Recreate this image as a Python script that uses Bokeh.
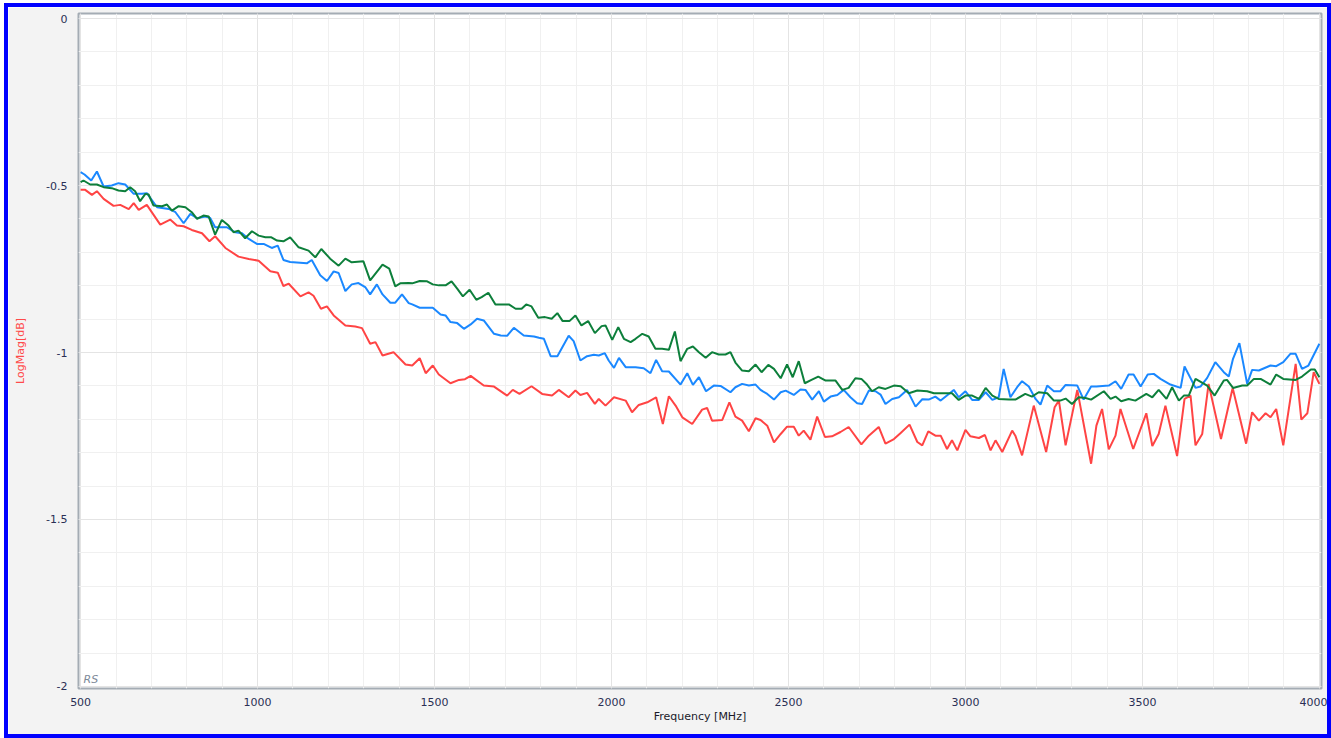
from bokeh.plotting import figure
from bokeh.models import Range1d, FixedTicker, NumeralTickFormatter, Label
from bokeh.embed import file_html
from bokeh.resources import INLINE

# ---- data ----
red_freq = [500, 513, 532, 546, 565, 593, 612, 636, 650, 664, 687, 725, 753, 772, 791, 814, 843, 864, 880, 909,
            946, 975, 1003, 1036, 1057, 1073, 1088, 1121, 1144, 1158, 1179, 1196, 1215, 1248, 1276, 1295, 1318, 1333,
            1353, 1384, 1418, 1437, 1458, 1475, 1495, 1512, 1545, 1569, 1586, 1602, 1639, 1668, 1705, 1721, 1740,
            1774, 1804, 1832, 1851, 1879, 1898, 1912, 1931, 1953, 1964, 1983, 2007, 2040, 2058, 2077, 2101, 2126,
            2145, 2162, 2181, 2200, 2228, 2256, 2270, 2284, 2313, 2333, 2350, 2369, 2388, 2407, 2421, 2440, 2459,
            2478, 2496, 2515, 2529, 2543, 2562, 2581, 2603, 2623, 2647, 2670, 2706, 2727, 2755, 2774, 2798, 2817,
            2842, 2864, 2878, 2895, 2915, 2930, 2948, 2962, 2977, 3000, 3014, 3038, 3055, 3071, 3085, 3104, 3132,
            3141, 3160, 3193, 3228, 3252, 3264, 3283, 3316, 3355, 3370, 3386, 3405, 3424, 3438, 3474, 3511, 3528,
            3546, 3565, 3598, 3619, 3636, 3650, 3669, 3687, 3722, 3755, 3793, 3810, 3829, 3848, 3862, 3878, 3898,
            3933, 3949, 3966, 3984, 4000]
red_val = [-0.513, -0.513, -0.528, -0.517, -0.540, -0.561, -0.558, -0.571, -0.553, -0.573, -0.558, -0.617, -0.602,
           -0.620, -0.622, -0.633, -0.643, -0.667, -0.652, -0.687, -0.713, -0.720, -0.725, -0.757, -0.761, -0.801,
           -0.794, -0.832, -0.820, -0.830, -0.869, -0.862, -0.889, -0.919, -0.922, -0.927, -0.974, -0.969, -1.009,
           -0.999, -1.036, -1.039, -1.017, -1.062, -1.039, -1.066, -1.092, -1.082, -1.080, -1.070, -1.099, -1.102,
           -1.129, -1.112, -1.124, -1.101, -1.124, -1.129, -1.112, -1.134, -1.114, -1.127, -1.121, -1.154, -1.139,
           -1.159, -1.134, -1.144, -1.179, -1.157, -1.149, -1.134, -1.214, -1.131, -1.159, -1.194, -1.214, -1.171,
           -1.166, -1.204, -1.202, -1.149, -1.192, -1.204, -1.236, -1.197, -1.202, -1.219, -1.269, -1.244, -1.222,
           -1.222, -1.249, -1.234, -1.261, -1.192, -1.253, -1.251, -1.238, -1.223, -1.275, -1.249, -1.223, -1.273,
           -1.259, -1.241, -1.216, -1.268, -1.278, -1.236, -1.249, -1.249, -1.289, -1.263, -1.293, -1.232, -1.251,
           -1.256, -1.247, -1.293, -1.263, -1.298, -1.234, -1.249, -1.308, -1.159, -1.298, -1.164, -1.144, -1.278,
           -1.112, -1.333, -1.219, -1.169, -1.290, -1.249, -1.169, -1.289, -1.182, -1.280, -1.244, -1.159, -1.310,
           -1.139, -1.129, -1.278, -1.244, -1.094, -1.259, -1.106, -1.273, -1.179, -1.204, -1.182, -1.194, -1.169,
           -1.278, -1.034, -1.201, -1.182, -1.059, -1.094]

blue_freq = [500, 511, 530, 546, 565, 588, 607, 626, 650, 673, 687, 716, 749, 768, 791, 810, 829, 852, 866, 880,
             913, 937, 956, 975, 998, 1017, 1040, 1057, 1073, 1092, 1139, 1153, 1177, 1196, 1215, 1229, 1248, 1266,
             1285, 1304, 1318, 1337, 1353, 1375, 1389, 1408, 1427, 1437, 1458, 1495, 1517, 1531, 1545, 1564, 1583,
             1602, 1620, 1639, 1668, 1687, 1705, 1724, 1752, 1781, 1795, 1809, 1828, 1847, 1879, 1893, 1912, 1931,
             1950, 1964, 1981, 1992, 2007, 2021, 2040, 2068, 2091, 2110, 2126, 2143, 2162, 2195, 2214, 2230, 2247,
             2267, 2289, 2308, 2336, 2350, 2369, 2388, 2407, 2421, 2440, 2459, 2478, 2492, 2515, 2534, 2548, 2567,
             2586, 2600, 2619, 2638, 2656, 2675, 2694, 2708, 2727, 2746, 2760, 2774, 2793, 2812, 2835, 2859, 2878,
             2896, 2915, 2930, 2953, 2967, 2981, 3000, 3019, 3038, 3057, 3076, 3094, 3108, 3127, 3146, 3160, 3179,
             3198, 3212, 3231, 3250, 3268, 3283, 3316, 3334, 3355, 3370, 3405, 3424, 3440, 3461, 3475, 3495, 3515,
             3532, 3551, 3579, 3608, 3619, 3650, 3664, 3683, 3706, 3730, 3744, 3756, 3774, 3796, 3810, 3829, 3862,
             3878, 3898, 3918, 3933, 3951, 3969, 4000]
blue_val = [-0.460, -0.467, -0.485, -0.458, -0.503, -0.500, -0.493, -0.497, -0.525, -0.525, -0.523, -0.565, -0.570,
            -0.580, -0.613, -0.585, -0.598, -0.593, -0.597, -0.625, -0.625, -0.640, -0.643, -0.660, -0.675, -0.675,
            -0.687, -0.680, -0.723, -0.729, -0.733, -0.723, -0.769, -0.786, -0.757, -0.762, -0.816, -0.796, -0.792,
            -0.804, -0.826, -0.796, -0.826, -0.851, -0.851, -0.826, -0.852, -0.856, -0.866, -0.866, -0.886, -0.889,
            -0.909, -0.912, -0.929, -0.916, -0.899, -0.904, -0.944, -0.949, -0.950, -0.926, -0.949, -0.952, -0.956,
            -0.959, -1.011, -1.011, -0.950, -0.966, -1.024, -1.011, -1.007, -1.009, -1.002, -1.024, -1.046, -1.016,
            -1.044, -1.044, -1.047, -1.062, -1.022, -1.056, -1.057, -1.096, -1.062, -1.097, -1.074, -1.116, -1.099,
            -1.100, -1.119, -1.104, -1.094, -1.099, -1.096, -1.112, -1.124, -1.141, -1.119, -1.114, -1.127, -1.111,
            -1.112, -1.141, -1.116, -1.147, -1.132, -1.127, -1.112, -1.134, -1.152, -1.154, -1.114, -1.116, -1.126,
            -1.154, -1.139, -1.134, -1.112, -1.162, -1.140, -1.141, -1.132, -1.144, -1.124, -1.112, -1.134, -1.116,
            -1.142, -1.142, -1.119, -1.142, -1.134, -1.049, -1.134, -1.104, -1.086, -1.102, -1.139, -1.156, -1.099,
            -1.116, -1.116, -1.097, -1.099, -1.141, -1.102, -1.102, -1.099, -1.086, -1.109, -1.066, -1.066, -1.102,
            -1.066, -1.064, -1.079, -1.096, -1.106, -1.042, -1.106, -1.102, -1.076, -1.029, -1.059, -1.072, -1.019,
            -0.972, -1.094, -1.052, -1.054, -1.039, -1.041, -1.029, -1.004, -1.004, -1.049, -1.039, -0.974]

green_freq = [500, 508, 527, 546, 565, 588, 607, 626, 640, 654, 668, 683, 692, 706, 730, 744, 758, 777, 796, 814,
              829, 847, 862, 880, 899, 918, 932, 946, 965, 984, 1003, 1022, 1039, 1055, 1073, 1092, 1116, 1144,
              1163, 1180, 1205, 1229, 1248, 1266, 1299, 1318, 1353, 1372, 1389, 1403, 1427, 1437, 1458, 1479, 1495,
              1512, 1531, 1548, 1564, 1580, 1599, 1618, 1633, 1652, 1672, 1687, 1710, 1729, 1746, 1759, 1774, 1793,
              1812, 1831, 1847, 1862, 1881, 1898, 1915, 1934, 1953, 1972, 1983, 2002, 2019, 2035, 2054, 2068, 2087,
              2105, 2124, 2143, 2162, 2179, 2195, 2214, 2230, 2247, 2266, 2284, 2303, 2322, 2336, 2350, 2369, 2388,
              2407, 2424, 2443, 2459, 2478, 2496, 2512, 2529, 2546, 2565, 2584, 2605, 2633, 2652, 2670, 2689, 2706,
              2722, 2736, 2755, 2774, 2798, 2817, 2840, 2864, 2892, 2911, 2944, 2962, 2981, 3000, 3019, 3038, 3057,
              3076, 3094, 3123, 3141, 3169, 3188, 3207, 3231, 3250, 3268, 3283, 3301, 3320, 3339, 3355, 3391, 3410,
              3424, 3440, 3461, 3480, 3511, 3528, 3546, 3568, 3584, 3603, 3617, 3631, 3650, 3683, 3704, 3730, 3739,
              3756, 3782, 3796, 3815, 3834, 3862, 3878, 3898, 3933, 3951, 3976, 3987, 4000]
green_val = [-0.490, -0.485, -0.497, -0.497, -0.505, -0.508, -0.515, -0.517, -0.505, -0.517, -0.547, -0.525, -0.527,
             -0.560, -0.562, -0.557, -0.575, -0.562, -0.565, -0.580, -0.600, -0.590, -0.593, -0.647, -0.603, -0.620,
             -0.640, -0.635, -0.658, -0.637, -0.650, -0.655, -0.655, -0.665, -0.667, -0.655, -0.685, -0.695, -0.715,
             -0.690, -0.719, -0.740, -0.719, -0.730, -0.727, -0.784, -0.737, -0.749, -0.802, -0.793, -0.792, -0.793,
             -0.786, -0.787, -0.796, -0.799, -0.799, -0.787, -0.809, -0.832, -0.812, -0.842, -0.834, -0.821, -0.856,
             -0.856, -0.856, -0.869, -0.869, -0.856, -0.862, -0.896, -0.894, -0.899, -0.882, -0.906, -0.906, -0.889,
             -0.919, -0.906, -0.942, -0.921, -0.919, -0.962, -0.924, -0.959, -0.969, -0.959, -0.944, -0.952, -0.989,
             -0.989, -0.992, -0.937, -1.026, -0.989, -0.982, -0.999, -1.016, -0.999, -1.006, -1.006, -0.999, -1.030,
             -1.054, -1.056, -1.036, -1.059, -1.037, -1.049, -1.077, -1.036, -1.074, -1.026, -1.092, -1.082, -1.072,
             -1.084, -1.084, -1.112, -1.106, -1.077, -1.079, -1.096, -1.116, -1.104, -1.109, -1.099, -1.101, -1.122,
             -1.114, -1.116, -1.122, -1.122, -1.122, -1.142, -1.129, -1.129, -1.139, -1.106, -1.129, -1.139, -1.141,
             -1.141, -1.124, -1.132, -1.119, -1.122, -1.144, -1.144, -1.138, -1.154, -1.134, -1.136, -1.141, -1.116,
             -1.139, -1.132, -1.146, -1.139, -1.144, -1.124, -1.134, -1.112, -1.139, -1.104, -1.144, -1.129, -1.129,
             -1.079, -1.099, -1.129, -1.084, -1.082, -1.106, -1.099, -1.099, -1.079, -1.079, -1.096, -1.066, -1.079,
             -1.082, -1.072, -1.051, -1.051, -1.074]

x_ticks = [500, 1000, 1500, 2000, 2500, 3000, 3500, 4000]
x_minor = list(range(500, 4001, 100))
y_ticks = [0, -0.5, -1, -1.5, -2]
y_minor = [round(-0.1 * i, 1) for i in range(0, 21)]

FONT = "DejaVu Sans"
TICK_COLOR = "#2a2f55"

p = figure(width=1319, height=727, output_backend="svg", toolbar_location=None,
           x_range=Range1d(494, 4006), y_range=Range1d(-2.006, 0.015),
           min_border_left=70, min_border_right=6, min_border_top=6, min_border_bottom=46)

p.styles = {"margin-left": "8px", "margin-top": "7px",
            "outline": "4px solid #0000ff", "outline-offset": "0px"}
p.background_fill_color = "white"
p.border_fill_color = "#f3f3f3"
p.outline_line_color = "#a4acb4"
p.outline_line_width = 2

p.xaxis.ticker = FixedTicker(ticks=x_ticks, minor_ticks=x_minor)
p.yaxis.ticker = FixedTicker(ticks=y_ticks, minor_ticks=y_minor)
p.xaxis.formatter = NumeralTickFormatter(format="0")
p.yaxis.formatter = NumeralTickFormatter(format="0.[0]")

for ax in (p.xaxis, p.yaxis):
    ax.axis_line_color = None
    ax.major_tick_line_color = None
    ax.minor_tick_line_color = None
    ax.major_label_text_font = FONT
    ax.major_label_text_font_size = "11px"
    ax.major_label_text_color = TICK_COLOR
    ax.axis_label_text_font = FONT
    ax.axis_label_text_font_size = "11px"
    ax.axis_label_text_font_style = "normal"

p.xaxis.axis_label = "Frequency [MHz]"
p.xaxis.axis_label_text_color = "#1a1a2a"
p.xaxis.major_label_standoff = 3
p.xaxis.axis_label_standoff = 1
p.yaxis.axis_label = "LogMag[dB]"
p.yaxis.axis_label_text_color = "#ff4a4a"
p.yaxis.major_label_standoff = 5
p.yaxis.axis_label_standoff = 16

p.xgrid.grid_line_color = "#e4e4e4"
p.ygrid.grid_line_color = "#e4e4e4"
p.xgrid.minor_grid_line_color = "#f0f0f0"
p.ygrid.minor_grid_line_color = "#f0f0f0"

p.line(red_freq, red_val, line_color="#ff4444", line_width=2)
p.line(blue_freq, blue_val, line_color="#1a88ff", line_width=2)
p.line(green_freq, green_val, line_color="#0d7f3b", line_width=2)

p.add_layout(Label(x=494, y=-2.006, x_offset=5, y_offset=3, text="RS",
                   text_font=FONT, text_font_size="11px", text_font_style="italic",
                   text_color="#7d8a99"))

open("out.html", "w").write(file_html(p, INLINE))
